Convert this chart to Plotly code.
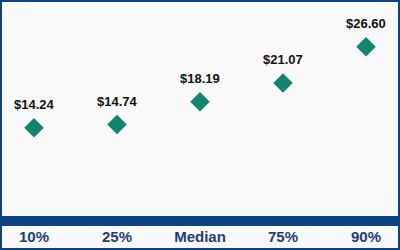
import plotly.graph_objects as go

categories = ["10%", "25%", "Median", "75%", "90%"]
values = [14.24, 14.74, 18.19, 21.07, 26.60]
labels = ["$14.24", "$14.74", "$18.19", "$21.07", "$26.60"]

navy = "#0b4480"
bg = "#f9f9f9"

xs = list(range(len(categories)))

fig = go.Figure()
fig.add_trace(go.Scatter(
    x=xs, y=values,
    mode="markers",
    marker=dict(symbol="diamond", size=15, color="#13846f", line=dict(width=0)),
    hoverinfo="skip",
))

annotations = [
    dict(x=x, y=v, xref="x", yref="y", text=t, showarrow=False,
         yshift=23, yanchor="middle",
         font=dict(family="Liberation Sans, Arial", size=13, color="#111111", weight="bold"))
    for x, v, t in zip(xs, values, labels)
]

fig.update_layout(
    width=400, height=250,
    margin=dict(l=0, r=0, t=0, b=0),
    paper_bgcolor=bg, plot_bgcolor=bg,
    showlegend=False,
    annotations=annotations,
    xaxis=dict(
        range=[-0.41, 4.41], tickmode="array",
        tickvals=xs, ticktext=categories,
        showgrid=False, zeroline=False, showline=False,
        ticks="outside", ticklen=2, tickcolor="rgba(0,0,0,0)",
        tickfont=dict(family="Liberation Sans, Arial", size=15, color="#1f3d7a", weight="bold"),
        automargin=False, fixedrange=True,
    ),
    yaxis=dict(
        domain=[29 / 250, 1], range=[0, 33.74],
        showgrid=False, zeroline=False, showticklabels=False, showline=False,
        automargin=False, fixedrange=True,
    ),
    shapes=[
        dict(type="rect", xref="paper", yref="paper",
             x0=0, x1=1, y0=(250 - 226) / 250, y1=(250 - 216) / 250,
             fillcolor=navy, line=dict(width=0), layer="above"),
        dict(type="rect", xref="paper", yref="paper",
             x0=1 / 400, x1=399 / 400, y0=1 / 250, y1=249 / 250,
             line=dict(color=navy, width=2), fillcolor="rgba(0,0,0,0)", layer="above"),
    ],
)

fig.write_html("out.html")
